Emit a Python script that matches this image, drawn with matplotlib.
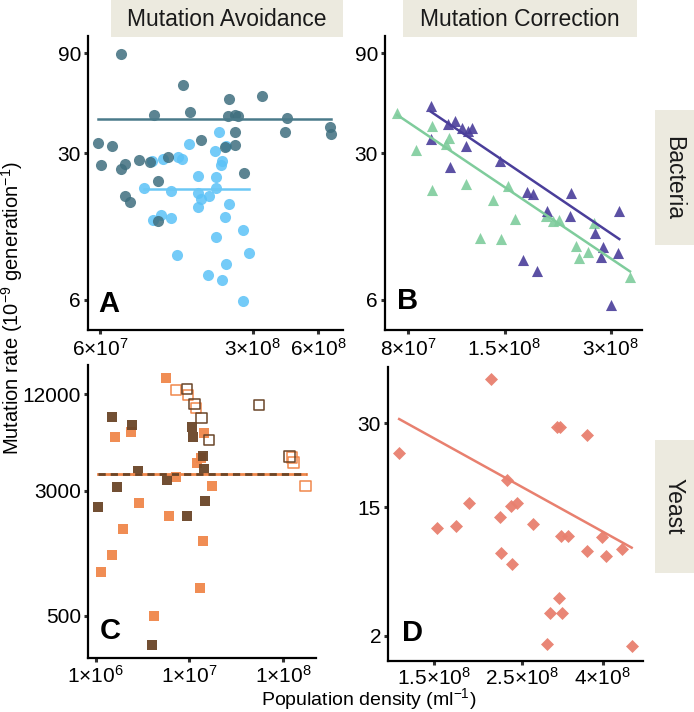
import numpy as np
import matplotlib
matplotlib.use('Agg')
import matplotlib.pyplot as plt
from matplotlib.patches import Rectangle

plt.rcParams['font.family'] = ['Liberation Sans', 'DejaVu Sans']
plt.rcParams['mathtext.fontset'] = 'custom'
plt.rcParams['mathtext.rm'] = 'Liberation Sans'
plt.rcParams['mathtext.it'] = 'Liberation Sans:italic'
plt.rcParams['mathtext.bf'] = 'Liberation Sans:bold'

# ---------------- Data ----------------
# Panel A: Bacteria, Mutation Avoidance
A_dark_x = [7.46e7, 1.435e8, 3.31e8, 2.35e8, 1.066e8, 1.558e8, 2.306e8, 2.49e8, 2.578e8, 4.295e8,
            6.78e8, 6.87e8, 4.206e8, 2.498e8, 1.735e8, 2.498e8, 2.248e8, 5.875e7, 6.81e7, 6.06e7,
            7.81e7, 7.46e7, 9.08e7, 1.017e8, 1.233e8, 2.744e8, 1.106e8, 7.83e7, 8.23e7, 1.106e8]
A_dark_y = [89.3, 63.5, 56.3, 54.5, 45.7, 47.2, 45.0, 45.7, 45.4, 44.1,
            40.1, 37.2, 37.9, 37.9, 34.9, 32.7, 32.2, 33.7, 32.4, 26.5,
            26.7, 25.2, 27.8, 27.3, 28.8, 24.2, 22.1, 18.7, 17.6, 14.2]
A_light_x = [2.115e8, 1.529e8, 2.277e8, 2.02e8, 1.04e8, 1.172e8, 1.37e8, 1.42e8, 2.176e8, 2.142e8,
             1.691e8, 2.045e8, 9.5e7, 1.265e8, 1.691e8, 2.045e8, 1.75e8, 1.903e8, 2.338e8, 1.695e8,
             2.241e8, 1.05e8, 1.138e8, 1.267e8, 2.724e8, 2.035e8, 1.351e8, 2.886e8, 2.27e8, 1.873e8,
             2.17e8, 2.724e8]
A_light_y = [37.8, 33.1, 32.6, 30.9, 27.6, 28.1, 28.7, 28.1, 27.5, 26.5,
             23.5, 23.1, 20.6, 19.9, 19.5, 20.4, 18.2, 18.8, 17.2, 16.6,
             14.9, 14.4, 15.2, 14.8, 12.9, 12.0, 9.8, 10.0, 8.9, 7.9,
             7.5, 5.9]
A_dark_fit_x = [5.89e7, 6.87e8]
A_dark_fit_y = [43.6, 43.6]
A_light_fit_x = [9.5e7, 2.886e8]
A_light_fit_y = [20.3, 20.3]

# Panel B: Bacteria, Mutation Correction
B_purple_x = [9.27e7, 1.035e8, 1.085e8, 1.138e8, 1.18e8, 1.211e8, 9.27e7, 1.163e8, 1.05e8, 1.453e8,
              1.733e8, 1.81e8, 2.318e8, 3.175e8, 1.98e8, 2.30e8, 2.714e8, 2.854e8, 2.82e8, 3.152e8,
              1.696e8, 1.857e8, 3.013e8]
B_purple_y = [50.7, 41.2, 42.8, 39.7, 38.5, 39.5, 35.0, 32.6, 25.7, 27.7,
              19.7, 19.2, 19.5, 15.9, 16.0, 15.1, 12.5, 10.7, 9.6, 10.0,
              9.3, 8.2, 5.7]
B_green_x = [7.445e7, 9.31e7, 1.046e8, 1.024e8, 8.41e7, 9.31e7, 1.165e8, 1.394e8, 1.532e8, 1.606e8,
             1.281e8, 1.466e8, 1.967e8, 2.059e8, 2.141e8, 2.695e8, 2.392e8, 2.596e8, 2.433e8, 3.405e8]
B_green_y = [46.5, 40.4, 35.6, 33.3, 31.2, 20.1, 21.5, 18.0, 21.0, 14.6,
             11.9, 11.7, 15.1, 14.2, 14.5, 14.0, 10.9, 10.1, 9.5, 7.7]
B_purple_fit_x = [9.27e7, 3.175e8]
B_purple_fit_y = [47.4, 11.7]
B_green_fit_x = [7.445e7, 3.405e8]
B_green_fit_y = [45.7, 8.2]

# Panel C: Yeast, Mutation Avoidance
C_orange_x = [5.62e6, 1.607e6, 2.378e6, 1.428e7, 1.211e7, 1.317e7, 7.18e6, 1.751e7, 2.873e6, 6.09e6,
              1.941e6, 1.404e7, 1.481e6, 1.139e6, 1.294e7, 4.215e6]
C_orange_y = [15030, 6450, 6930, 6830, 4483, 4795, 3667, 3209, 2515, 2087,
              1725, 1453, 1193, 939, 747, 496]
C_brown_x = [1.503e6, 2.42e6, 1.056e7, 1.098e7, 1.382e7, 1.438e7, 2.804e6, 5.755e6, 1.70e6, 1.05e6,
             1.471e7, 9.34e6, 3.954e6]
C_brown_y = [8630, 7695, 7510, 6510, 4935, 4077, 3997, 3483, 3178, 2382,
             2588, 2094, 328]
C_brown_open_x = [9.40e6, 1.131e7, 1.342e7, 1.614e7, 5.535e7, 1.165e8]
C_brown_open_y = [12840, 10350, 8545, 6233, 10280, 4898]
C_orange_open_x = [7.18e6, 9.71e6, 1.179e7, 1.238e8, 1.284e8, 1.725e8]
C_orange_open_y = [12710, 11830, 9860, 4829, 4495, 3224]
C_fit_x = [1.058e6, 1.725e8]
C_fit_y = [3796, 3796]

# Panel D: Yeast, Mutation Correction
D_x = [2.084e8, 1.223e8, 1.521e8, 1.702e8, 1.839e8, 2.295e8, 2.204e8, 2.341e8, 2.424e8, 2.662e8,
       2.209e8, 2.355e8, 3.06e8, 3.12e8, 3.645e8, 3.139e8, 3.275e8, 3.978e8, 3.658e8, 4.071e8,
       4.469e8, 3.108e8, 2.943e8, 3.151e8, 2.897e8, 4.737e8]
D_y = [40.0, 24.05, 12.13, 12.40, 15.69, 19.31, 13.64, 15.23, 15.64, 12.59,
       8.96, 7.78, 29.17, 29.17, 27.66, 11.09, 11.05, 10.89, 9.23, 8.66,
       9.46, 4.56, 3.46, 3.41, 1.58, 1.50]
D_fit_x = [1.223e8, 4.737e8]
D_fit_y = [30.9, 9.62]

# Tick labels
A_xticks = [6e7, 3e8, 6e8]
A_xticklabels = [r'$6{\times}10^{7}$', r'$3{\times}10^{8}$', r'$6{\times}10^{8}$']
B_xticks = [8e7, 1.5e8, 3e8]
B_xticklabels = [r'$8{\times}10^{7}$', r'$1.5{\times}10^{8}$', r'$3{\times}10^{8}$']
C_xticks = [1e6, 1e7, 1e8]
C_xticklabels = [r'$1{\times}10^{6}$', r'$1{\times}10^{7}$', r'$1{\times}10^{8}$']
D_xticks = [1.5e8, 2.5e8, 4e8]
D_xticklabels = [r'$1.5{\times}10^{8}$', r'$2.5{\times}10^{8}$', r'$4{\times}10^{8}$']
AB_yticks = [6, 30, 90]
C_yticks = [500, 3000, 12000]
D_yticks = [2, 15, 30]

col_labels = ['Mutation Avoidance', 'Mutation Correction']
row_labels = ['Bacteria', 'Yeast']
panel_letters = ['A', 'B', 'C', 'D']

# ---------------- Styles ----------------
c_teal = '#3f6f7f'
c_teal_line = '#4a7a8a'
c_lblue = '#5cc2f7'
c_lblue_line = '#6cc8f5'
c_purple = '#4a3e9a'
c_green = '#7fcc9c'
c_brown = '#6a4528'
c_orange = '#f0874b'
c_salmon = '#e8806f'
strip_col = '#eceadf'
TICK_FS = 15

fig = plt.figure(figsize=(6.94, 7.12), dpi=100)
W, H = 694.0, 712.0

def px_axes(l, t, r, b):
    return fig.add_axes([l / W, 1 - b / H, (r - l) / W, (b - t) / H])

axA = px_axes(88, 36, 343, 330)
axB = px_axes(385, 36, 642, 330)
axC = px_axes(88, 365, 316, 658)
axD = px_axes(388, 367, 643, 661)

def style(ax, xt, xtl, yt, xlim, ylim, xpad=2.5):
    ax.set_xlim(xlim)
    ax.set_ylim(ylim)
    ax.minorticks_off()
    ax.set_xticks(xt)
    ax.set_xticklabels(xtl, fontsize=TICK_FS)
    ax.set_yticks(yt)
    ax.set_yticklabels([str(v) for v in yt], fontsize=TICK_FS)
    ax.minorticks_off()
    for s in ['top', 'right']:
        ax.spines[s].set_visible(False)
    for s in ['left', 'bottom']:
        ax.spines[s].set_linewidth(1.6)
        ax.spines[s].set_color('black')
    ax.tick_params(axis='both', direction='out', length=3, width=2.2, color='#333333',
                   labelsize=TICK_FS, labelcolor='black', pad=2)
    ax.tick_params(axis='x', pad=xpad)
    ax.set_facecolor('white')

# Panel A
axA.set_xscale('log'); axA.set_yscale('log')
axA.scatter(A_light_x, A_light_y, s=64, color=c_lblue, alpha=0.85, linewidths=0, zorder=2)
axA.scatter(A_dark_x, A_dark_y, s=64, color=c_teal, alpha=0.85, linewidths=0, zorder=2)
axA.plot(A_dark_fit_x, A_dark_fit_y, color=c_teal_line, lw=1.8, zorder=3)
axA.plot(A_light_fit_x, A_light_fit_y, color=c_lblue_line, lw=1.8, zorder=3)
style(axA, A_xticks, A_xticklabels, AB_yticks, (5.29e7, 7.78e8), (4.31, 108.8))

# Panel B
axB.set_xscale('log'); axB.set_yscale('log')
axB.scatter(B_green_x, B_green_y, s=64, marker='^', color=c_green, alpha=0.9, linewidths=0, zorder=2)
axB.scatter(B_purple_x, B_purple_y, s=64, marker='^', color=c_purple, alpha=0.9, linewidths=0, zorder=2)
axB.plot(B_purple_fit_x, B_purple_fit_y, color=c_purple, lw=1.8, zorder=3)
axB.plot(B_green_fit_x, B_green_fit_y, color=c_green, lw=1.8, zorder=3)
style(axB, B_xticks, B_xticklabels, AB_yticks, (6.87e7, 3.683e8), (4.31, 108.8))

# Panel C
axC.set_xscale('log'); axC.set_yscale('log')
axC.scatter(C_orange_x, C_orange_y, s=54, marker='s', color=c_orange, alpha=0.95, linewidths=0, zorder=2)
axC.scatter(C_brown_x, C_brown_y, s=54, marker='s', color=c_brown, alpha=0.95, linewidths=0, zorder=2)
axC.scatter(C_orange_open_x, C_orange_open_y, s=54, marker='s', facecolors='none',
            edgecolors=c_orange, linewidths=1.1, zorder=2)
axC.scatter(C_brown_open_x, C_brown_open_y, s=54, marker='s', facecolors='none',
            edgecolors=c_brown, linewidths=1.1, zorder=2)
axC.plot(C_fit_x, C_fit_y, color=c_orange, lw=2.0, zorder=3)
axC.plot(C_fit_x, C_fit_y, color=c_brown, lw=2.0, dashes=(2.6, 1.8), zorder=4)
style(axC, C_xticks, C_xticklabels, C_yticks, (8.28e5, 2.232e8), (272.7, 18190), xpad=1.8)

# Panel D
axD.set_xscale('log')
axD.set_yscale('function', functions=(lambda v: np.sqrt(np.clip(v, 0, None)), lambda v: np.square(v)))
axD.scatter(D_x, D_y, s=44, marker='D', color=c_salmon, alpha=0.95, linewidths=0, zorder=2)
axD.plot(D_fit_x, D_fit_y, color=c_salmon, lw=1.8, zorder=3)
style(axD, D_xticks, D_xticklabels, D_yticks, (1.146e8, 5.06e8), (0.877, 42.94), xpad=1.2)

# panel letters
for ax, letter, (lx, ly) in zip([axA, axB, axC, axD], panel_letters,
                                [(0.04, 0.04), (0.045, 0.05), (0.05, 0.045), (0.055, 0.048)]):
    ax.text(lx, ly, letter, transform=ax.transAxes, fontsize=21, fontweight='bold',
            ha='left', va='bottom', color='black')

# strips
def strip(l, t, r, b, text, rot, cx, cy):
    rect = Rectangle((l / W, 1 - b / H), (r - l) / W, (b - t) / H, transform=fig.transFigure,
                     facecolor=strip_col, edgecolor='none', zorder=0)
    fig.patches.append(rect)
    fig.text(cx / W, 1 - cy / H, text, rotation=rot, ha='center', va='center',
             fontsize=16.5, color='#1a1a1a')

strip(111, 0, 343, 37, col_labels[0], 0, 227, 19)
strip(403, 0, 637, 37, col_labels[1], 0, 520, 19)
strip(655, 110, 700, 245, row_labels[0], 270, 674, 177.5)
strip(655, 440, 700, 573, row_labels[1], 270, 674, 506.5)

fig.text(12 / W, 1 - 308 / H, r'Mutation rate (10$^{-9}$ generation$^{-1}$)', rotation=90,
         ha='center', va='center', fontsize=14.5, color='black')
fig.text(369 / W, 1 - 699.5 / H, r'Population density (ml$^{-1}$)', ha='center', va='center',
         fontsize=14, color='black')

fig.savefig('out.png', dpi=100, facecolor='white')
